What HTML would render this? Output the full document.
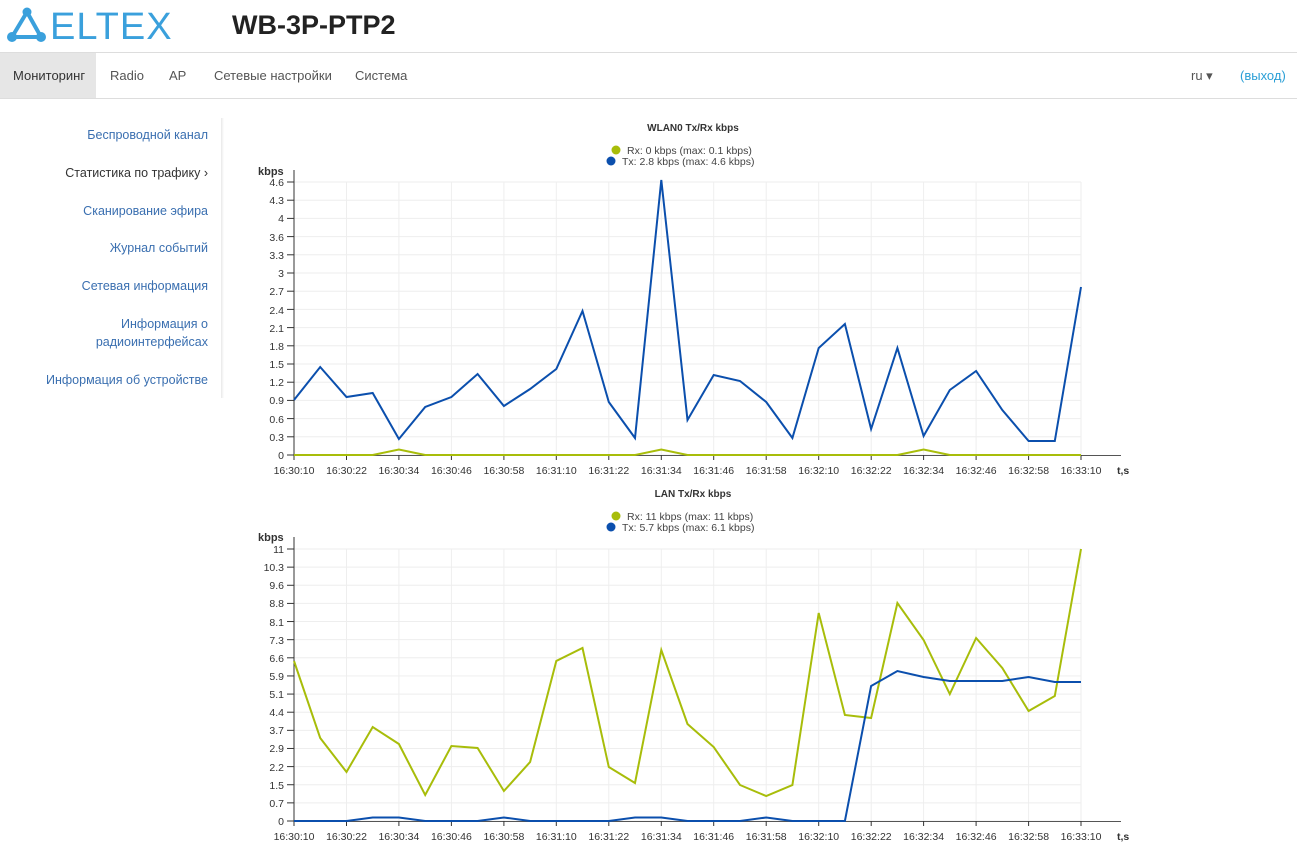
<!DOCTYPE html>
<html><head><meta charset="utf-8"><style>
body{margin:0;width:1297px;height:851px;overflow:hidden;background:#fff;font-family:"Liberation Sans","Noto Sans CJK SC",sans-serif;position:relative}
.hdr{position:absolute;left:0;top:0;width:1297px;height:52px;border-bottom:1px solid #ddd}
.title{position:absolute;left:232px;top:10px;font-size:27px;font-weight:bold;color:#222}
.nav{position:absolute;left:0;top:53px;width:1297px;height:45px;border-bottom:1px solid #ddd;font-size:13px;color:#555}
.nav span{position:absolute;top:15px}
.side{position:absolute;right:1089px;text-align:right;font-size:12.5px;color:#3a6fb0;line-height:18px}
svg text{font-family:"Liberation Sans",sans-serif}
</style></head><body>
<div class="hdr">
<svg width="180" height="50" style="position:absolute;left:4px;top:2px">
<g fill="#3aa0dc"><circle cx="23" cy="10" r="4.5"/><circle cx="8" cy="35" r="5"/><circle cx="37" cy="35" r="5"/>
<path d="M23 10 L8 35 L37 35 Z" fill="none" stroke="#3aa0dc" stroke-width="4"/></g>
<text x="46" y="37" font-size="38" fill="#3aa0dc" font-family="Liberation Sans" letter-spacing="1">ELTEX</text>
</svg>
<div class="title">WB-3P-PTP2</div>
</div>
<div class="nav">
<div style="position:absolute;left:0;top:0;width:96px;height:45px;background:#e6e6e6"></div>
<span style="left:13px;color:#333">Мониторинг</span><span style="left:110px">Radio</span><span style="left:169px">AP</span><span style="left:214px">Сетевые настройки</span><span style="left:355px">Система</span>
<span style="left:1191px">ru ▾</span><span style="left:1240px;color:#2a9fd6">(выход)</span>
</div>
<div style="position:absolute;left:221px;top:118px;width:3px;height:280px;background:linear-gradient(to right,#e8e8e8,#fff)"></div>
<div class="side" style="top:126px">Беспроводной канал</div>
<div class="side" style="top:164px;color:#333">Статистика по трафику ›</div>
<div class="side" style="top:202px">Сканирование эфира</div>
<div class="side" style="top:239px">Журнал событий</div>
<div class="side" style="top:277px">Сетевая информация</div>
<div class="side" style="top:315px">Информация о<br>радиоинтерфейсах</div>
<div class="side" style="top:371px">Информация об устройстве</div>

<svg width="1297" height="851" style="position:absolute;left:0;top:0" font-size="10.5" fill="#333">
<defs>
<g id="vg" stroke="#eee" stroke-width="1"><line x1="346.5" x2="346.5" y1="0" y2="273"/><line x1="398.9" x2="398.9" y1="0" y2="273"/><line x1="451.4" x2="451.4" y1="0" y2="273"/><line x1="503.9" x2="503.9" y1="0" y2="273"/><line x1="556.3" x2="556.3" y1="0" y2="273"/><line x1="608.8" x2="608.8" y1="0" y2="273"/><line x1="661.3" x2="661.3" y1="0" y2="273"/><line x1="713.7" x2="713.7" y1="0" y2="273"/><line x1="766.2" x2="766.2" y1="0" y2="273"/><line x1="818.7" x2="818.7" y1="0" y2="273"/><line x1="871.2" x2="871.2" y1="0" y2="273"/><line x1="923.6" x2="923.6" y1="0" y2="273"/><line x1="976.1" x2="976.1" y1="0" y2="273"/><line x1="1028.6" x2="1028.6" y1="0" y2="273"/><line x1="1081" x2="1081" y1="0" y2="273"/></g>
<g id="xl" text-anchor="middle"><text x="294">16:30:10</text><text x="346.5">16:30:22</text><text x="398.9">16:30:34</text><text x="451.4">16:30:46</text><text x="503.9">16:30:58</text><text x="556.3">16:31:10</text><text x="608.8">16:31:22</text><text x="661.3">16:31:34</text><text x="713.7">16:31:46</text><text x="766.2">16:31:58</text><text x="818.7">16:32:10</text><text x="871.2">16:32:22</text><text x="923.6">16:32:34</text><text x="976.1">16:32:46</text><text x="1028.6">16:32:58</text><text x="1081">16:33:10</text></g>
<g id="xt" stroke="#333"><line x1="294" x2="294" y1="0" y2="5"/><line x1="346.5" x2="346.5" y1="0" y2="5"/><line x1="398.9" x2="398.9" y1="0" y2="5"/><line x1="451.4" x2="451.4" y1="0" y2="5"/><line x1="503.9" x2="503.9" y1="0" y2="5"/><line x1="556.3" x2="556.3" y1="0" y2="5"/><line x1="608.8" x2="608.8" y1="0" y2="5"/><line x1="661.3" x2="661.3" y1="0" y2="5"/><line x1="713.7" x2="713.7" y1="0" y2="5"/><line x1="766.2" x2="766.2" y1="0" y2="5"/><line x1="818.7" x2="818.7" y1="0" y2="5"/><line x1="871.2" x2="871.2" y1="0" y2="5"/><line x1="923.6" x2="923.6" y1="0" y2="5"/><line x1="976.1" x2="976.1" y1="0" y2="5"/><line x1="1028.6" x2="1028.6" y1="0" y2="5"/><line x1="1081" x2="1081" y1="0" y2="5"/></g>
<g id="hg" stroke="#eee"><line x1="294" x2="1081" y1="0" y2="0"/><line x1="294" x2="1081" y1="-18.2" y2="-18.2"/><line x1="294" x2="1081" y1="-36.4" y2="-36.4"/><line x1="294" x2="1081" y1="-54.6" y2="-54.6"/><line x1="294" x2="1081" y1="-72.8" y2="-72.8"/><line x1="294" x2="1081" y1="-91" y2="-91"/><line x1="294" x2="1081" y1="-109.2" y2="-109.2"/><line x1="294" x2="1081" y1="-127.4" y2="-127.4"/><line x1="294" x2="1081" y1="-145.6" y2="-145.6"/><line x1="294" x2="1081" y1="-163.8" y2="-163.8"/><line x1="294" x2="1081" y1="-182" y2="-182"/><line x1="294" x2="1081" y1="-200.2" y2="-200.2"/><line x1="294" x2="1081" y1="-218.4" y2="-218.4"/><line x1="294" x2="1081" y1="-236.6" y2="-236.6"/><line x1="294" x2="1081" y1="-254.8" y2="-254.8"/><line x1="294" x2="1081" y1="-273" y2="-273"/></g>
<g id="yt" stroke="#333"><line x1="287" x2="294" y1="0" y2="0"/><line x1="287" x2="294" y1="-18.2" y2="-18.2"/><line x1="287" x2="294" y1="-36.4" y2="-36.4"/><line x1="287" x2="294" y1="-54.6" y2="-54.6"/><line x1="287" x2="294" y1="-72.8" y2="-72.8"/><line x1="287" x2="294" y1="-91" y2="-91"/><line x1="287" x2="294" y1="-109.2" y2="-109.2"/><line x1="287" x2="294" y1="-127.4" y2="-127.4"/><line x1="287" x2="294" y1="-145.6" y2="-145.6"/><line x1="287" x2="294" y1="-163.8" y2="-163.8"/><line x1="287" x2="294" y1="-182" y2="-182"/><line x1="287" x2="294" y1="-200.2" y2="-200.2"/><line x1="287" x2="294" y1="-218.4" y2="-218.4"/><line x1="287" x2="294" y1="-236.6" y2="-236.6"/><line x1="287" x2="294" y1="-254.8" y2="-254.8"/><line x1="287" x2="294" y1="-273" y2="-273"/></g>
</defs>

<use href="#vg" y="182"/>
<use href="#hg" y="455"/>
<use href="#yt" y="455"/>
<line x1="294" x2="294" y1="170" y2="455" stroke="#333"/>
<line x1="294" x2="1121" y1="455.5" y2="455.5" stroke="#555"/>
<use href="#xt" y="455"/>
<g text-anchor="end"><text x="284" y="459">0</text><text x="284" y="441">0.3</text><text x="284" y="423">0.6</text><text x="284" y="404">0.9</text><text x="284" y="386">1.2</text><text x="284" y="368">1.5</text><text x="284" y="350">1.8</text><text x="284" y="332">2.1</text><text x="284" y="314">2.4</text><text x="284" y="295">2.7</text><text x="284" y="277">3</text><text x="284" y="259">3.3</text><text x="284" y="241">3.6</text><text x="284" y="222">4</text><text x="284" y="204">4.3</text><text x="284" y="186">4.6</text></g>
<text x="258" y="175" font-weight="bold" font-size="11">kbps</text>
<use href="#xl" y="474"/>
<text x="1117" y="474" font-weight="bold">t,s</text>
<text x="693" y="131" font-weight="bold" text-anchor="middle" font-size="10">WLAN0 Tx/Rx kbps</text>
<circle cx="616" cy="150" r="4.5" fill="#a8bd0a"/><circle cx="611" cy="161" r="4.5" fill="#0b4fad"/>
<text x="627" y="154" font-size="10.5" fill="#444">Rx: 0 kbps (max: 0.1 kbps)</text>
<text x="622" y="165" font-size="10.5" fill="#444">Tx: 2.8 kbps (max: 4.6 kbps)</text>
<polyline fill="none" stroke="#a8bd0a" stroke-width="2" points="294,455 372.7,455 398.9,449.5 425.2,455 635,455 661.3,449.5 687.5,455 897.4,455 923.6,449.5 949.8,455 1081,455"/>
<polyline fill="none" stroke="#0b4fad" stroke-width="2" points="294,400 320.2,367 346.5,397 372.7,393 398.9,439 425.2,407 451.4,397 477.6,374 503.9,406 530.1,389 556.3,369 582.5,311 608.8,402 635,438 661.3,180 687.5,420 713.7,375 740,381 766.2,402 792.4,438 818.7,348 844.9,324 871.1,429 897.4,348 923.6,436 949.8,390 976.1,371 1002.3,410 1028.6,441 1054.8,441 1081,287"/>

<use href="#vg" y="549"/>
<g transform="translate(0,821) scale(1,0.9963)"><use href="#hg"/><use href="#yt"/></g>
<line x1="294" x2="294" y1="537" y2="821" stroke="#333"/>
<line x1="294" x2="1121" y1="821.5" y2="821.5" stroke="#555"/>
<use href="#xt" y="821"/>
<g text-anchor="end"><text x="284" y="825">0</text><text x="284" y="807">0.7</text><text x="284" y="789">1.5</text><text x="284" y="771">2.2</text><text x="284" y="752">2.9</text><text x="284" y="734">3.7</text><text x="284" y="716">4.4</text><text x="284" y="698">5.1</text><text x="284" y="680">5.9</text><text x="284" y="662">6.6</text><text x="284" y="644">7.3</text><text x="284" y="626">8.1</text><text x="284" y="607">8.8</text><text x="284" y="589">9.6</text><text x="284" y="571">10.3</text><text x="284" y="553">11</text></g>
<text x="258" y="541" font-weight="bold" font-size="11">kbps</text>
<use href="#xl" y="840"/>
<text x="1117" y="840" font-weight="bold">t,s</text>
<text x="693" y="497" font-weight="bold" text-anchor="middle" font-size="10">LAN Tx/Rx kbps</text>
<circle cx="616" cy="516" r="4.5" fill="#a8bd0a"/><circle cx="611" cy="527" r="4.5" fill="#0b4fad"/>
<text x="627" y="520" font-size="10.5" fill="#444">Rx: 11 kbps (max: 11 kbps)</text>
<text x="622" y="531" font-size="10.5" fill="#444">Tx: 5.7 kbps (max: 6.1 kbps)</text>
<polyline fill="none" stroke="#a8bd0a" stroke-width="2" points="294,661 320.2,738 346.5,772 372.7,727 398.9,744 425.2,795 451.4,746 477.6,748 503.9,791 530.1,762 556.3,661 582.5,648 608.8,767 635,783 661.3,650 687.5,724 713.7,747 740,785 766.2,796 792.4,785 818.7,613 844.9,715 871.1,718 897.4,603 923.6,640 949.8,694 976.1,638 1002.3,668 1028.6,711 1054.8,696 1081,549"/>
<polyline fill="none" stroke="#0b4fad" stroke-width="2" points="294,821 346.5,821 372.7,817.5 398.9,817.5 425.2,821 477.6,821 503.9,817.5 530.1,821 582.5,821 608.8,821 635,817.5 661.3,817.5 687.5,821 740,821 766.2,817.5 792.4,821 844.9,821 871.1,686 897.4,671 923.6,677 949.8,681 976.1,681 1002.3,681 1028.6,677 1054.8,682 1081,682"/>
</svg>
</body></html>
